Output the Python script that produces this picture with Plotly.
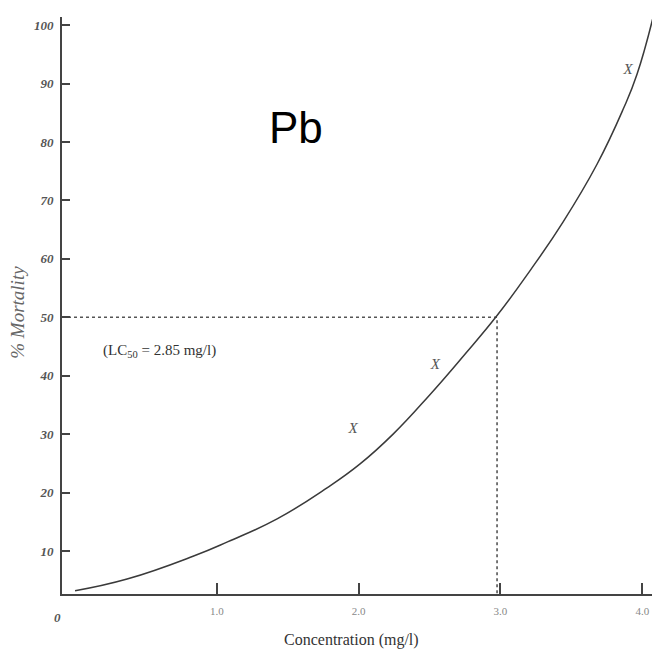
import plotly.graph_objects as go

# ---- data ----
curve_conc = [0, 0.367, 0.832, 1.079, 1.425, 1.777, 2.010, 2.243, 2.504, 2.736, 2.976,
              3.209, 3.441, 3.681, 3.865, 3.963, 4.085]
curve_mort = [3.2, 5.2, 9.1, 11.6, 15.5, 20.8, 24.9, 30.0, 36.8, 43.3, 50.3,
              58.0, 66.3, 76.2, 85.6, 91.6, 102.2]

obs_conc = [1.96, 2.54, 3.90]
obs_mort = [30.9, 41.8, 92.3]

# dotted LC50 guide (as drawn in the picture)
guide_conc = 2.976
guide_mort = 50

x_ticks = [1, 2, 3, 4]
x_tick_labels = ["1.0", "2.0", "3.0", "4.0"]
y_ticks = [10, 20, 30, 40, 50, 60, 70, 80, 90, 100]
y_tick_labels = [str(v) for v in y_ticks]

X_RANGE = [-0.092, 4.111]
Y_RANGE = [2.64, 101.4]

serif = "Liberation Serif"

fig = go.Figure()

fig.add_trace(go.Scatter(
    x=[X_RANGE[0], guide_conc, guide_conc],
    y=[guide_mort, guide_mort, Y_RANGE[0]],
    mode="lines",
    line=dict(color="#555555", width=1.6, dash="dot"),
    hoverinfo="skip", showlegend=False,
))

fig.add_trace(go.Scatter(
    x=curve_conc, y=curve_mort,
    mode="lines",
    line=dict(color="#3a3a3a", width=1.5, shape="spline", smoothing=1.3),
    showlegend=False,
))

fig.add_trace(go.Scatter(
    x=obs_conc, y=obs_mort,
    mode="text",
    text=["X"] * len(obs_conc),
    textfont=dict(family=serif, size=15, color="#555555", style="italic"),
    showlegend=False,
))

fig.update_layout(
    width=652, height=643,
    margin=dict(l=54, r=2, t=9, b=57),
    paper_bgcolor="white",
    plot_bgcolor="white",
    showlegend=False,
    xaxis=dict(
        range=X_RANGE,
        tickmode="array", tickvals=x_ticks, ticktext=x_tick_labels,
        ticks="inside", ticklen=11, tickwidth=2, tickcolor="#444444",
        showline=True, linecolor="#444444", linewidth=2,
        showgrid=False, zeroline=False,
        tickfont=dict(family=serif, size=11, color="#888888"),
        ticklabelstandoff=6,
    ),
    yaxis=dict(
        range=Y_RANGE,
        tickmode="array", tickvals=y_ticks, ticktext=y_tick_labels,
        ticks="inside", ticklen=8, tickwidth=2, tickcolor="#444444",
        showline=True, linecolor="#444444", linewidth=2,
        showgrid=False, zeroline=False,
        tickfont=dict(family=serif, size=13, color="#555555", weight="bold", style="italic"),
        ticklabelstandoff=4,
    ),
    annotations=[
        dict(text="Pb", x=0.393, y=0.808, xref="paper", yref="paper",
             xanchor="center", yanchor="middle", showarrow=False,
             font=dict(family="Liberation Sans", size=44, color="#000000")),
        dict(text="(LC<sub>50</sub> = 2.85 mg/l)", x=0.066, y=0.422, xref="paper", yref="paper",
             xanchor="left", yanchor="middle", showarrow=False,
             font=dict(family=serif, size=15, color="#333333")),
        dict(text="% Mortality", x=-0.074, y=0.489, xref="paper", yref="paper",
             xanchor="center", yanchor="middle", textangle=-90, showarrow=False,
             font=dict(family=serif, size=19, color="#666666", style="italic")),
        dict(text="Concentration (mg/l)", x=0.485, y=-0.08, xref="paper", yref="paper",
             xanchor="center", yanchor="middle", showarrow=False,
             font=dict(family=serif, size=16, color="#333333")),
        dict(text="0", x=-0.007, y=-0.04, xref="paper", yref="paper",
             xanchor="center", yanchor="middle", showarrow=False,
             font=dict(family=serif, size=13, color="#555555", weight="bold", style="italic")),
    ],
)

fig.write_html("out.html")
